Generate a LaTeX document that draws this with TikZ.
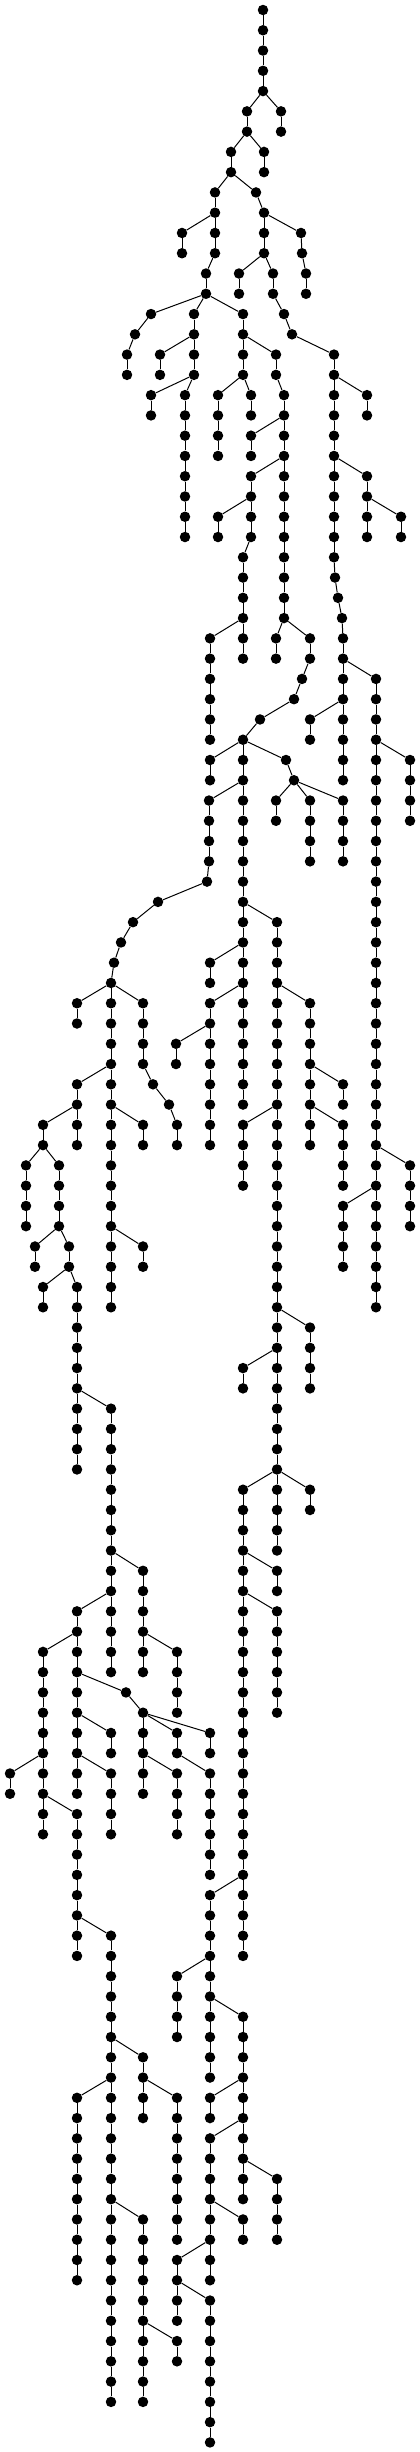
\documentclass[tikz,border=0pt]{standalone}
\begin{document}
\def\chains{263/0/4/0/0, 247/5/6/263/4, 281/5/6/263/4, 231/7/8/247/6, 264/7/8/247/6,
215/9/12/231/8, 256/9/9/231/8, 264/10/12/256/9, 182/11/12/215/10, 301/11/11/264/10,
302/12/12/301/11, 306/13/14/302/12, 206/13/14/215/12, 239/13/14/264/12, 273/13/14/264/12,
151/15/15/206/14, 135/16/16/151/15, 127/17/18/135/16, 194/15/18/206/14, 160/17/18/194/16,
151/19/20/194/18, 185/19/26/194/18, 243/15/18/206/14, 276/17/18/243/16, 218/19/22/243/18,
251/19/20/243/18, 284/19/30/276/18, 251/21/22/284/20, 251/23/26/284/22, 218/25/26/251/24,
243/27/32/251/26, 284/15/15/273/14, 292/16/16/284/15, 334/17/27/292/16, 367/19/20/334/18,
367/23/26/334/22, 401/25/26/367/24, 335/28/28/334/27, 338/29/29/335/28, 342/30/30/338/29,
343/31/38/342/30, 376/33/64/343/32, 310/35/36/343/34, 410/37/40/376/36, 210/31/36/243/30,
276/31/32/284/30, 310/31/32/284/30, 302/33/33/310/32, 294/34/34/302/33, 260/35/35/294/34,
243/36/54/260/35, 210/37/38/243/36, 286/37/37/243/36, 294/38/38/286/37, 276/39/40/294/38,
310/39/42/294/38, 343/39/42/294/38, 209/39/42/243/38, 207/43/43/209/42, 158/44/44/207/43,
133/45/45/158/44, 121/46/46/133/45, 114/47/47/121/46, 111/48/48/114/47, 77/49/50/111/48,
111/49/64/111/48, 143/49/52/111/48, 153/53/53/143/52, 169/54/54/153/53, 177/55/56/169/54,
77/53/56/111/52, 43/55/56/77/54, 26/57/60/43/56, 59/57/60/43/56, 35/61/62/59/60,
69/61/62/59/60, 43/63/64/69/62, 77/63/72/69/62, 143/55/56/111/54, 143/61/62/111/60,
111/69/82/77/68, 143/77/82/111/76, 177/81/84/143/80, 77/79/88/111/78, 43/81/90/77/80,
10/87/88/43/86, 77/89/96/43/88, 111/95/118/77/94, 126/83/83/77/82, 143/84/88/126/83,
177/85/86/143/84, 210/85/86/143/84, 210/87/92/177/86, 177/87/90/143/86, 111/85/86/77/84,
111/87/90/77/86, 243/73/96/277/72, 277/77/78/243/76, 277/79/84/243/78, 210/93/102/243/92,
177/97/100/210/96, 243/99/108/210/98, 210/103/104/243/102, 210/105/112/243/104, 277/107/110/243/106,
243/109/110/210/108, 177/111/114/210/110, 210/113/120/177/112, 143/101/104/111/100, 177/103/110/143/102,
77/103/112/111/102, 143/109/118/111/108, 177/115/116/143/114, 277/45/76/243/44, 310/49/56/277/48,
343/53/54/310/52, 343/55/58/310/54, 343/59/62/376/58, 410/57/60/376/56, 243/55/58/277/54,
310/65/68/277/64, 243/67/68/277/66, 310/73/74/277/72, 210/47/48/243/46, 210/49/56/243/48,
176/51/52/210/50}
\begin{tikzpicture}[x=1pt,y=-1pt,
  dot/.style={circle,fill=black,inner sep=0pt,minimum size=10.5pt},
  edge/.style={line width=1pt,black}]
\useasboundingbox (0,0) rectangle (420,2452);
\foreach \cx/\ca/\cb/\px/\pr in \chains {
  \foreach \r in {\ca,...,\cb} {
    \node[dot] (n\cx-\r) at (\cx,{10+20.27*\r}) {};
  }
}
\foreach \cx/\ca/\cb/\px/\pr in \chains {
  \ifnum\px>0 \draw[edge] (n\px-\pr) -- (n\cx-\ca); \fi
  \foreach \r in {\ca,...,\cb} {
    \ifnum\r>\ca
      \pgfmathtruncatemacro\q{\r-1}
      \draw[edge] (n\cx-\q) -- (n\cx-\r);
    \fi
  }
}
\end{tikzpicture}
\end{document}
